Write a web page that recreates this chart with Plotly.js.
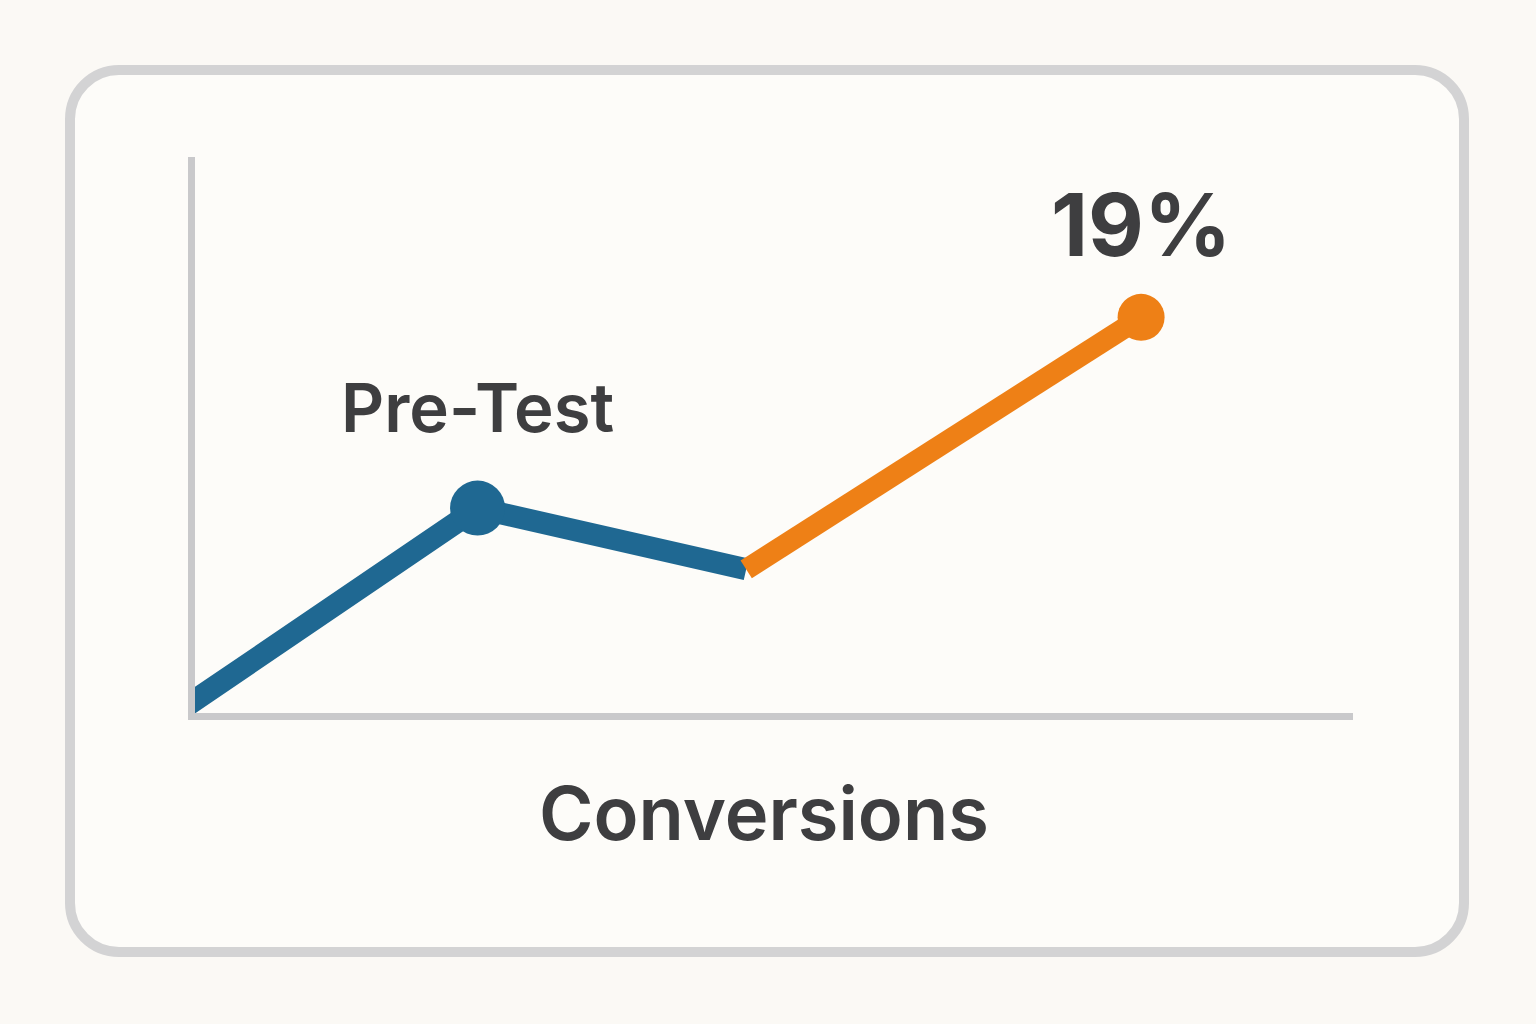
<!DOCTYPE html>
<html>
<head>
<meta charset="utf-8">
<script src="https://cdn.plot.ly/plotly-3.0.1.min.js"></script>
<style>
  html, body { margin: 0; padding: 0; background: #fbf9f5; }
  #wrap { position: relative; width: 1536px; height: 1024px; overflow: hidden; }
  #card { position: absolute; left: 65px; top: 65px; width: 1384px; height: 872px;
          border: 10px solid #d3d3d4; border-radius: 54px; background: #fdfcf9; }
  #chart { position: absolute; left: 0; top: 0; width: 1536px; height: 1024px; }
</style>
</head>
<body>
<div id="wrap">
  <div id="card"></div>
  <div id="chart"></div>
</div>
<script>
// Pre-test segment (blue) and post-test segment (orange), conversion rate in %
// (the first point lies just left of the y axis, so the line is cut by it)
const preX = [-0.15, 2.44, 4.76];
const preY = [0.05, 9.84, 6.9];
const postX = [4.76, 8.17];
const postY = [6.9, 19.0];
const preLabel = 'Pre-Test';
const finalLabel = '19%';
const axisLabel = 'Conversions';

const textColor = '#3e3e40';
const fontFamily = 'Inter, "Noto Sans", "DejaVu Sans", sans-serif';

const data = [
  { x: preX, y: preY, mode: 'lines', line: { color: '#1f6892', width: 22 }, hoverinfo: 'skip' },
  { x: postX, y: postY, mode: 'lines', line: { color: '#ee8016', width: 21 }, hoverinfo: 'skip' },
  { x: [preX[1]], y: [preY[1]], mode: 'markers', marker: { color: '#1f6892', size: 55 }, hoverinfo: 'skip', cliponaxis: false },
  { x: [postX[postX.length - 1]], y: [postY[postY.length - 1]], mode: 'markers', marker: { color: '#ee8016', size: 47 }, hoverinfo: 'skip', cliponaxis: false }
];

const layout = {
  width: 1536, height: 1024,
  margin: { l: 195, r: 183, t: 157, b: 311, pad: 0 },
  paper_bgcolor: 'rgba(0,0,0,0)',
  plot_bgcolor: 'rgba(0,0,0,0)',
  showlegend: false,
  xaxis: { range: [0, 10], showgrid: false, zeroline: false, showticklabels: false, ticks: '',
           showline: true, linecolor: '#c9c9cb', linewidth: 7, fixedrange: true },
  yaxis: { range: [0, 26.7], showgrid: false, zeroline: false, showticklabels: false, ticks: '',
           showline: true, linecolor: '#c9c9cb', linewidth: 7, fixedrange: true },
  annotations: [
    { x: preX[1], y: preY[1], xref: 'x', yref: 'y', text: preLabel, showarrow: false,
      xanchor: 'center', yanchor: 'bottom', yshift: 58,
      font: { family: fontFamily, size: 67, color: textColor, weight: 600 } },
    { x: postX[postX.length - 1], y: postY[postY.length - 1], xref: 'x', yref: 'y', text: finalLabel, showarrow: false,
      xanchor: 'center', yanchor: 'bottom', yshift: 38,
      font: { family: fontFamily, size: 86, color: textColor, weight: 700 } },
    { x: 0.4917, y: -0.096, xref: 'paper', yref: 'paper', text: axisLabel, showarrow: false,
      xanchor: 'center', yanchor: 'top',
      font: { family: fontFamily, size: 74, color: textColor, weight: 600 } }
  ]
};

Plotly.newPlot('chart', data, layout, { staticPlot: true, displayModeBar: false });
</script>
</body>
</html>
